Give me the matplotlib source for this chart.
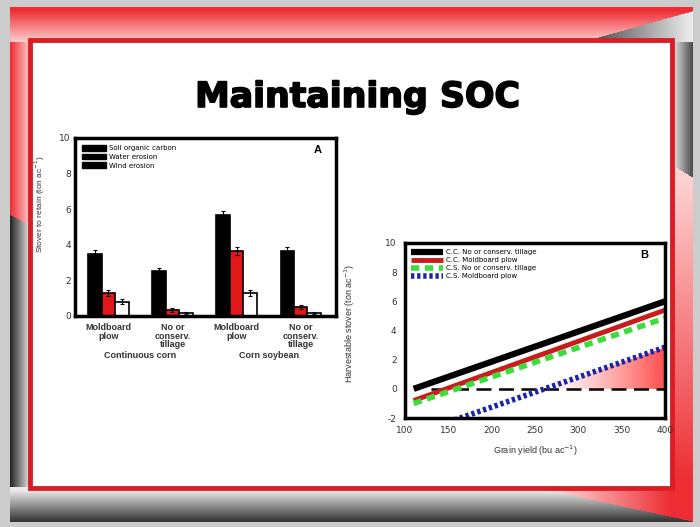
import matplotlib.pyplot as plt
import numpy as np
from matplotlib.patches import Patch, Rectangle, Polygon
import matplotlib.patheffects as pe

plt.rcParams['axes.unicode_minus'] = False

# panel A: stover to retain (ton/ac)
tillage = ["Moldboard\nplow", "No or\nconserv.\ntillage", "Moldboard\nplow", "No or\nconserv.\ntillage"]
rotations = ["Continuous corn", "Corn soybean"]
soc = [3.5, 2.5, 5.7, 3.65]
water = [1.3, 0.35, 3.65, 0.5]
wind = [0.8, 0.15, 1.3, 0.15]
soc_err = [0.2, 0.2, 0.2, 0.2]
water_err = [0.15, 0.1, 0.2, 0.1]
wind_err = [0.15, 0.05, 0.15, 0.05]

# panel B: harvestable stover vs grain yield
grain = [110, 400]
cc_nt = [0.0, 6.0]
cc_mp = [-0.8, 5.4]
cs_nt = [-1.0, 4.85]
cs_mp = [-3.1, 2.85]
zero_x = [130, 400]

W, H = 700, 527
fig = plt.figure(figsize=(7.0, 5.27), dpi=100)

# ---- slide background ----
yy, xx = np.mgrid[0:H, 0:W].astype(float)
img = np.ones((H, W, 3)) * 0.8
red = np.array([0.93, 0.18, 0.2])
pink = np.array([1.0, 0.82, 0.82])
dark = np.array([0.15, 0.15, 0.15])
light = np.array([0.92, 0.92, 0.92])

def paint(mask, c0, c1, t):
    t = np.clip(t, 0, 1)[..., None]
    col = c0 * (1 - t) + c1 * t
    img[mask] = col[mask]

slide = (xx >= 10) & (xx <= 692) & (yy >= 7) & (yy <= 521)
top = slide & (yy < 42)
paint(top, red, pink, (yy - 10) / 32)
tr = slide & (yy < 42) & (xx > 580 + (42 - yy) * 3.6)
paint(tr, np.array([0.35, 0.35, 0.35]), light, (xx - 600) / 90)
left_top = slide & (xx < 30) & (yy >= 42) & (yy < 215 + (xx - 10) * 0.5)
paint(left_top, red, pink, (xx - 10) / 20)
left_bot = slide & (xx < 30) & (yy >= 215 + (xx - 10) * 0.5)
paint(left_bot, dark, light, (xx - 10) / 20)
right_top = slide & (xx > 672) & (yy >= 42) & (yy < 165 + (xx - 672) * 0.6)
paint(right_top, light, np.array([0.3, 0.3, 0.3]), (xx - 672) / 20)
right_bot = slide & (xx > 672) & (yy >= 165 + (xx - 672) * 0.6)
paint(right_bot, pink, red, (yy - 180) / 300)
bottom = slide & (yy > 486)
paint(bottom, light, np.array([0.22, 0.22, 0.22]), (yy - 490) / 30)
br = bottom & (xx > 540 + (yy - 488) * 4.6)
paint(br, pink, red, (xx - 560) / 110)

bg = fig.add_axes([0, 0, 1, 1])
bg.imshow(img, extent=(0, W, H, 0), aspect="auto", interpolation="bilinear")
bg.add_patch(Rectangle((30, 40), 642, 448, facecolor="white", edgecolor="#d91e26", lw=3.5))
bg.set_xlim(0, W)
bg.set_ylim(H, 0)
bg.axis("off")

fig.text(0.511, 0.816, "Maintaining SOC", ha="center", va="center",
         fontsize=25, fontweight="bold", family="DejaVu Sans", color="black",
         path_effects=[pe.withStroke(linewidth=1.2, foreground="black")])

lab = dict(family="Liberation Sans", color="#333333")

# ---- panel A ----
axA = fig.add_axes([0.1071, 0.4004, 0.3729, 0.3378])
x = np.arange(len(soc))
w = 0.21
ekw = dict(ecolor="black", elinewidth=0.8, capsize=1.5, capthick=0.8)
axA.bar(x - w, soc, w, yerr=soc_err, color="black", edgecolor="black", lw=1.2, error_kw=ekw)
axA.bar(x, water, w, yerr=water_err, color="#e01818", edgecolor="black", lw=1.2, error_kw=ekw)
axA.bar(x + w, wind, w, yerr=wind_err, color="white", edgecolor="black", lw=1.2, error_kw=ekw)
axA.set_xlim(-0.52, 3.55)
axA.set_ylim(0, 10)
axA.set_yticks(range(0, 11, 2))
axA.set_xticks(x)
axA.set_xticklabels(tillage, fontsize=5.5, fontweight="bold", linespacing=0.95, **lab)
axA.tick_params(length=0, labelsize=6.5, labelcolor="#333333", pad=3)
axA.tick_params(axis="x", pad=5)
for s in axA.spines.values():
    s.set_linewidth(2.5)
axA.set_ylabel("Stover to retain (ton ac$^{-1}$)", fontsize=6, **lab)
axA.yaxis.set_label_coords(-0.107, 0.63)
for i, r in enumerate(rotations):
    axA.text(2 * i + 0.5, -0.22, r, transform=axA.get_xaxis_transform(),
             ha="center", va="center", fontsize=6.5, fontweight="bold", **lab)
axA.legend(handles=[Patch(color="black", label="Soil organic carbon"),
                    Patch(color="black", label="Water erosion"),
                    Patch(color="black", label="Wind erosion")],
           loc="upper left", fontsize=5, frameon=False, handlelength=3.5,
           handleheight=0.9, labelspacing=0.35, handletextpad=0.4,
           borderaxespad=0.6)
axA.text(0.93, 0.93, "A", transform=axA.transAxes, ha="center", va="center",
         fontsize=8, fontweight="bold", family="Liberation Sans")

# ---- panel B ----
axB = fig.add_axes([0.5786, 0.2068, 0.3714, 0.3321])
# pink zone where the C.S. moldboard line is above zero
x0 = grain[0] - cs_mp[0] * (grain[1] - grain[0]) / (cs_mp[1] - cs_mp[0])
tri = Polygon([(x0, 0), (grain[1], cs_mp[1]), (grain[1], 0)], closed=True,
              facecolor="none", edgecolor="none")
axB.add_patch(tri)
grad = np.linspace(0, 1, 100)[None, :] ** 1.3
pinkmap = plt.matplotlib.colors.LinearSegmentedColormap.from_list("p", ["white", "#ff4d4d"])
im = axB.imshow(np.repeat(grad, 10, axis=0), cmap=pinkmap, aspect="auto",
                extent=(x0, grain[1], 0, cs_mp[1]), zorder=1)
im.set_clip_path(tri)
axB.plot(zero_x, [0, 0], color="black", lw=1.8, dashes=(6, 3), zorder=2)
axB.plot(grain, cc_nt, color="black", lw=4.5, solid_capstyle="butt", label="C.C. No or conserv. tillage", zorder=3)
axB.plot(grain, cc_mp, color="#c91c1c", lw=3.5, solid_capstyle="butt", label="C.C. Moldboard plow", zorder=3)
axB.plot(grain, cs_nt, color="#3ddc3d", lw=4, dashes=(1.5, 1), label="C.S. No or conserv. tillage", zorder=3)
axB.plot(grain, cs_mp, color="#1a24a8", lw=4, dashes=(0.6, 0.5), label="C.S. Moldboard plow", zorder=3)
axB.set_xlim(100, 400)
axB.set_ylim(-2, 10)
axB.set_xticks(range(100, 401, 50))
axB.set_yticks(range(-2, 11, 2))
axB.tick_params(length=0, labelsize=6.5, labelcolor="#333333", pad=6)
for s in axB.spines.values():
    s.set_linewidth(2.5)
    s.set_zorder(5)
axB.set_xlabel("Grain yield (bu ac$^{-1}$)", fontsize=6.5, labelpad=6, **lab)
axB.set_ylabel("Harvestable stover (ton ac$^{-1}$)", fontsize=6.5, **lab)
axB.yaxis.set_label_coords(-0.185, 0.54)
axB.legend(loc="upper left", fontsize=5, frameon=False, handlelength=4.5,
           labelspacing=0.3, handletextpad=0.5, borderaxespad=0.5)
axB.text(0.92, 0.93, "B", transform=axB.transAxes, ha="center", va="center",
         fontsize=8, fontweight="bold", family="Liberation Sans")

fig.savefig("out.png", dpi=100)
